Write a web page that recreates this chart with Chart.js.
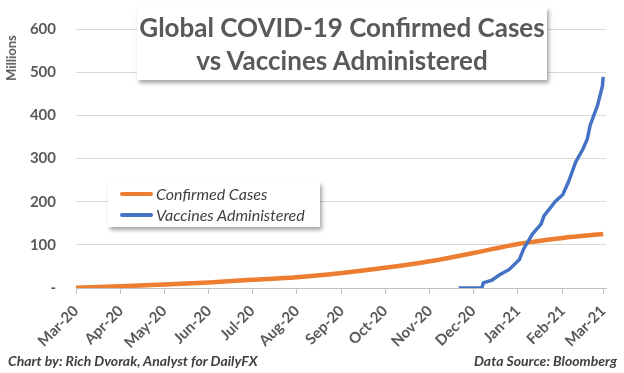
<!DOCTYPE html>
<html>
<head>
<meta charset="utf-8">
<script src="https://cdn.jsdelivr.net/npm/chart.js@4.4.1/dist/chart.umd.min.js"></script>
<style>
  html, body { margin: 0; padding: 0; background: #fff; }
  #wrap { position: relative; width: 624px; height: 373px; overflow: hidden; font-family: Lato, "Open Sans", sans-serif; }
  #chart { position: absolute; left: 0; top: 0; }
  .box { position: absolute; background: #fff; box-shadow: 2px 3px 4px rgba(0,0,0,0.35); }
  #title { left: 137px; top: 7px; width: 410px; height: 73px; text-align: center; color: #595959;
           font-weight: 700; font-size: 26px; line-height: 33px; padding-top: 4px; box-sizing: border-box; }
  #legend { left: 108px; top: 182px; width: 212px; height: 45px; padding: 1px 0 0 12px; box-sizing: border-box; }
  .leg-item { display: flex; align-items: center; height: 21px; color: #404040; font-style: italic; font-size: 16px; }
  .leg-line { display: inline-block; width: 33px; height: 4px; border-radius: 2px; margin-right: 3px; }
  #ylabel { position: absolute; left: 11px; top: 58px; transform: translate(-50%, -50%) rotate(-90deg);
            color: #595959; font-weight: 700; font-size: 13px; white-space: nowrap; }
  .foot { position: absolute; top: 352px; color: #404040; font-weight: 700; font-style: italic; font-size: 14px; white-space: nowrap; }
</style>
</head>
<body>
<div id="wrap">
  <canvas id="chart" width="624" height="373"></canvas>
  <div id="ylabel">Millions</div>
  <div id="title" class="box">Global COVID-19 Confirmed Cases<br>vs Vaccines Administered</div>
  <div id="legend" class="box"></div>
  <div class="foot" style="left:8px;">Chart by: Rich Dvorak, Analyst for DailyFX</div>
  <div class="foot" style="right:7px;">Data Source: Bloomberg</div>
</div>
<script>
// --- Data (days counted from 1 Mar 2020, values in millions) ---
const monthLabels = ['Mar-20', 'Apr-20', 'May-20', 'Jun-20', 'Jul-20', 'Aug-20', 'Sep-20',
                     'Oct-20', 'Nov-20', 'Dec-20', 'Jan-21', 'Feb-21', 'Mar-21'];
const monthDays = [0, 31, 61, 92, 122, 153, 184, 214, 245, 275, 306, 337, 365];
const yTicks = [0, 100, 200, 300, 400, 500, 600];

const casesDays   = [0, 31, 61, 92, 122, 153, 184, 214, 245, 275, 306, 337, 365];
const casesValues = [0.5, 4, 8, 13, 19, 25, 35, 47, 62, 81, 102, 116, 125];

const vaccineDays   = [265, 281, 282, 288, 293, 300, 307, 310, 316, 322, 324, 332, 337,
                       341, 346, 351, 354, 356, 361, 364.5, 365];
const vaccineValues = [0, 0, 12, 18, 30, 43, 66, 91, 125, 148, 167, 201, 216,
                       246, 292, 322, 345, 377, 422, 468, 489];

const seriesNames = ['Confirmed Cases', 'Vaccines Administered'];
const seriesColors = ['#ED7D31', '#4472C4'];

// --- Chart ---
const toPoints = (xs, ys) => xs.map((x, i) => ({ x: x, y: ys[i] }));
const axisGray = '#595959';

new Chart(document.getElementById('chart').getContext('2d'), {
    type: 'line',
    data: {
        datasets: [
            {
                label: seriesNames[0],
                data: toPoints(casesDays, casesValues),
                borderColor: seriesColors[0],
                borderWidth: 4.5,
                pointRadius: 0,
                cubicInterpolationMode: 'monotone',
                order: 1
            },
            {
                label: seriesNames[1],
                data: toPoints(vaccineDays, vaccineValues),
                borderColor: seriesColors[1],
                borderWidth: 3.5,
                pointRadius: 0,
                tension: 0,
                order: 0
            }
        ]
    },
    options: {
        responsive: false,
        animation: false,
        layout: { padding: { left: 0, top: 25, right: 17, bottom: 0 } },
        plugins: { legend: { display: false }, tooltip: { enabled: false } },
        scales: {
            x: {
                type: 'linear',
                min: 0,
                max: 367,
                afterBuildTicks: (scale) => { scale.ticks = monthDays.map(v => ({ value: v })); },
                afterFit: (scale) => { scale.height = 85; },
                ticks: {
                    minRotation: 45,
                    maxRotation: 45,
                    padding: 8,
                    color: axisGray,
                    font: { family: 'Lato', size: 15, weight: 'bold' },
                    callback: (value) => monthLabels[monthDays.indexOf(value)]
                },
                grid: { drawOnChartArea: false, drawTicks: true, tickLength: 6, color: '#bfbfbf' },
                border: { color: '#bfbfbf', width: 1 }
            },
            y: {
                min: 0,
                max: 600,
                afterBuildTicks: (scale) => { scale.ticks = yTicks.map(v => ({ value: v })); },
                afterFit: (scale) => { scale.width = 76; },
                ticks: {
                    padding: 20,
                    color: axisGray,
                    font: { family: 'Lato', size: 15, weight: 'bold' },
                    callback: (value) => value === 0 ? '-' : value
                },
                grid: { color: '#d9d9d9', drawTicks: false },
                border: { display: false }
            }
        }
    }
});

// --- Legend box (HTML) ---
const legendEl = document.getElementById('legend');
seriesNames.forEach((name, i) => {
    const row = document.createElement('div');
    row.className = 'leg-item';
    row.innerHTML = `<span class="leg-line" style="background:${seriesColors[i]}"></span>${name}`;
    legendEl.appendChild(row);
});
</script>
</body>
</html>
